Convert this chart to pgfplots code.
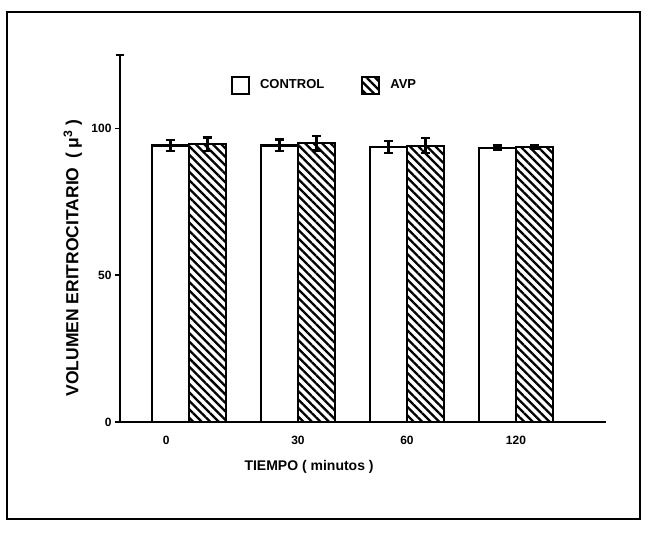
\documentclass[border=0pt]{standalone}
\usepackage{fontspec}
\setmainfont{Liberation Sans}
\usepackage{pgfplots}
\pgfplotsset{compat=1.18}
\usetikzlibrary{patterns.meta}

\pgfplotstableread{
x  y     e
0  94.2  1.8
1  94.2  2.0
2  93.7  2.1
3  93.4  0.8
}\control
\pgfplotstableread{
x  y     e
0  94.6  2.3
1  95.0  2.5
2  94.1  2.6
3  93.6  0.7
}\avp

\begin{document}
\begin{tikzpicture}[x=1pt,y=1pt]
\useasboundingbox (0,0) rectangle (646,534);
\draw[line width=1.4pt] (7,15) rectangle (640,522);
\begin{axis}[
  at={(120pt,112pt)}, anchor=south west,
  scale only axis, width=486pt, height=367pt,
  xmin=-0.633, xmax=3.826, ymin=0, ymax=125,
  axis x line*=bottom, axis y line*=left,
  axis line style={line width=2.2pt},
  ybar=0pt, bar width=37pt,
  xtick={-0.21,1,2,3}, xticklabels={0,30,60,120},
  x tick style={draw=none},
  x tick label style={yshift=-6pt},
  ytick={0,50,100},
  y tick style={line width=1.5pt, black},
  tick align=outside, major tick length=5pt,
  extra y ticks={125}, extra y tick labels={},
  extra y tick style={tick align=center, major tick length=7pt},
  /pgf/number format/assume math mode=true,
  ticklabel style={font=\bfseries\fontsize{12}{13}\selectfont},
  xlabel={TIEMPO ( minutos )},
  xlabel style={at={(axis description cs:0.389,-0.123)}, anchor=center, font=\bfseries\fontsize{14}{15}\selectfont},
  ylabel={VOLUMEN ERITROCITARIO\enspace( μ\textsuperscript{3} )},
  ylabel style={at={(axis description cs:-0.097,0.447)}, anchor=center, rotate=0, font=\bfseries\fontsize{17.5}{18}\selectfont},
  legend columns=2,
  legend style={at={(0.222,0.918)}, anchor=west, draw=none, fill=none,
    font=\bfseries\fontsize{13}{14}\selectfont,
    /tikz/every even column/.append style={column sep=35pt},
    nodes={inner sep=2pt}},
  legend image code/.code={\draw[#1, line width=2pt] (0pt,-8.5pt) rectangle (17pt,8.5pt);},
  error bars/y dir=both, error bars/y explicit,
  error bars/error bar style={line width=2.2pt, black},
  error bars/error mark options={rotate=90, mark size=4.5pt, line width=2.2pt, black},
]
\addplot[draw=black, line width=2.2pt, fill=white] table[x=x, y=y, y error=e] {\control};
\addplot[draw=black, line width=2.2pt, pattern={Lines[angle=-45, distance=6pt, line width=2.3pt]}] table[x=x, y=y, y error=e] {\avp};
\legend{\hspace{8pt}CONTROL, \hspace{8pt}AVP}
\end{axis}
\end{tikzpicture}
\end{document}
